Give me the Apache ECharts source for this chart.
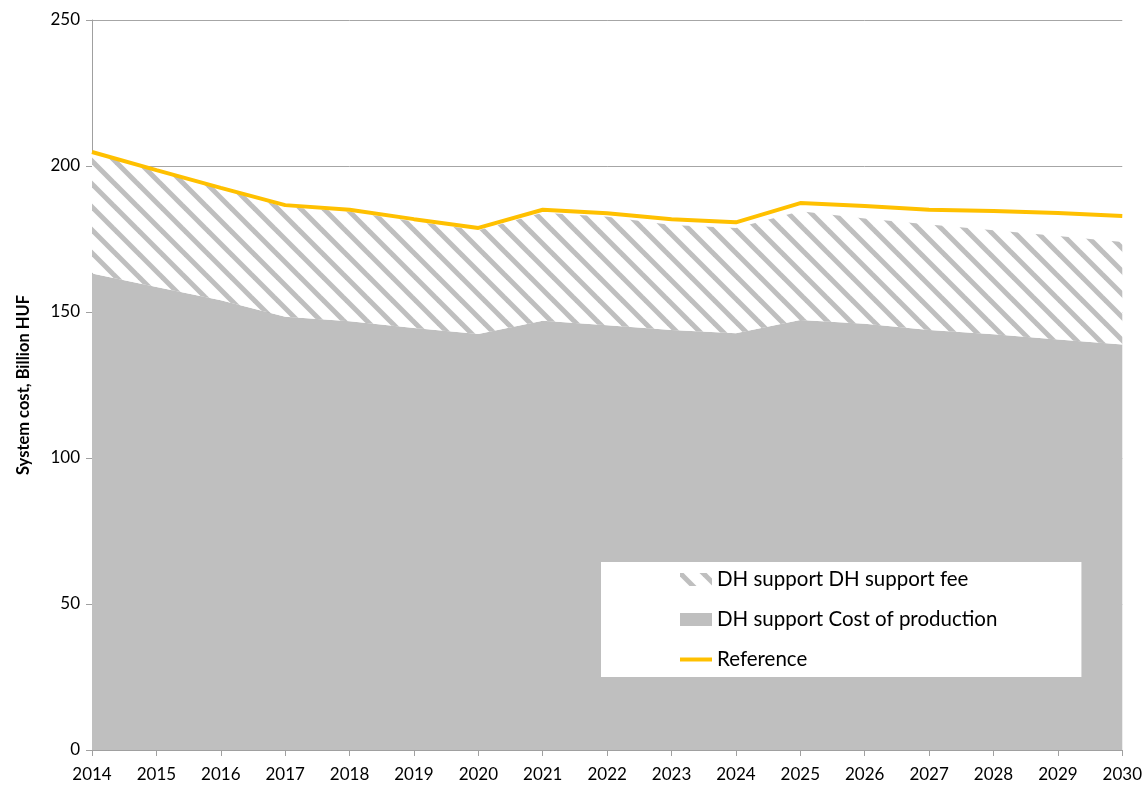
<!DOCTYPE html>
<html>
<head>
<meta charset="utf-8">
<script src="https://cdn.jsdelivr.net/npm/echarts@6/dist/echarts.min.js"></script>
<style>html,body{margin:0;padding:0;background:#fff}#c{width:1145px;height:785px}</style>
</head>
<body>
<div id="c"></div>
<script>
const years = ['2014','2015','2016','2017','2018','2019','2020','2021','2022','2023','2024','2025','2026','2027','2028','2029','2030'];
const costOfProduction = [163.2,158.6,154.0,148.4,146.8,144.5,142.5,147.0,145.5,143.8,142.7,147.3,146.0,143.8,142.4,140.6,138.9];
const supportFee = [41.1,39.6,38.0,37.6,37.5,36.5,35.5,37.0,37.1,36.0,36.1,37.2,36.0,36.2,35.6,35.4,35.1];
const reference = [204.8,198.6,192.5,186.6,185.0,181.8,178.8,185.0,183.8,181.8,180.7,187.3,186.3,185.0,184.6,183.9,182.9];
const yTicks = [0,50,100,150,200,250];

const NAME_FEE = 'DH support DH support fee';
const NAME_COST = 'DH support Cost of production';
const NAME_REF = 'Reference';

function makeHatch(){
  const s = 23;
  const c = document.createElement('canvas');
  c.width = s; c.height = s;
  const ctx = c.getContext('2d');
  ctx.fillStyle = '#ffffff';
  ctx.fillRect(0,0,s,s);
  ctx.strokeStyle = '#BFBFBF';
  ctx.lineWidth = 5;
  for (const o of [-s, 0, s]) {
    ctx.beginPath();
    ctx.moveTo(-s, -s + o);
    ctx.lineTo(2*s, 2*s + o);
    ctx.stroke();
  }
  return c;
}
const hatch = {image: makeHatch(), repeat: 'repeat'};

const chart = echarts.init(document.getElementById('c'), null, {renderer:'canvas'});
const FONT = 'Lato';
chart.setOption({
  animation: false,
  backgroundColor: '#ffffff',
  textStyle: {fontFamily: FONT},
  grid: {left: 92, right: 20, top: 20, bottom: 35, containLabel: false},
  legend: {
    left: 601, top: 562,
    orient: 'vertical',
    backgroundColor: '#ffffff',
    padding: [7, 84, 7, 79],
    itemGap: 19,
    itemWidth: 32,
    itemHeight: 13,
    z: 100,
    textStyle: {fontFamily: FONT, fontSize: 20.5, color: '#000', lineHeight: 20},
    data: [
      {name: NAME_FEE, icon: 'rect', itemStyle: {color: hatch}},
      {name: NAME_COST, icon: 'rect', itemStyle: {color: '#BFBFBF'}},
      {name: NAME_REF, icon: 'path://M0,0 h32 v4 h-32 z', itemStyle: {color: '#FFC000'}}
    ]
  },
  xAxis: {
    type: 'category',
    data: years,
    boundaryGap: false,
    axisLine: {lineStyle: {color: '#A0A0A0', width: 1}},
    axisTick: {show: true, length: 6, lineStyle: {color: '#A0A0A0'}},
    axisLabel: {color: '#000', fontSize: 17, fontFamily: FONT, margin: 16},
    splitLine: {show: false}
  },
  yAxis: {
    type: 'value',
    min: yTicks[0], max: yTicks[yTicks.length-1], interval: 50,
    name: 'System cost, Billion HUF',
    nameLocation: 'middle',
    nameGap: 60,
    nameTextStyle: {fontFamily: FONT, fontWeight: 'bold', fontSize: 16.5, color: '#000'},
    axisLine: {show: true, lineStyle: {color: '#A0A0A0', width: 1}},
    axisTick: {show: true, length: 6, lineStyle: {color: '#A0A0A0'}},
    axisLabel: {color: '#000', fontSize: 17, fontFamily: FONT, margin: 12},
    splitLine: {show: true, lineStyle: {color: '#A6A6A6', width: 1}}
  },
  series: [
    {
      name: NAME_COST, type: 'line', stack: 'dh', data: costOfProduction,
      symbol: 'none', showSymbol: false,
      lineStyle: {width: 0, color: '#BFBFBF'},
      itemStyle: {color: '#BFBFBF'},
      areaStyle: {color: '#BFBFBF', opacity: 1},
      z: 2
    },
    {
      name: NAME_FEE, type: 'line', stack: 'dh', data: supportFee,
      symbol: 'none', showSymbol: false,
      lineStyle: {width: 0, color: '#BFBFBF'},
      itemStyle: {color: hatch},
      areaStyle: {color: hatch, opacity: 1},
      z: 2
    },
    {
      name: NAME_REF, type: 'line', data: reference,
      symbol: 'none', showSymbol: false,
      lineStyle: {width: 4, color: '#FFC000'},
      itemStyle: {color: '#FFC000'},
      z: 3
    }
  ]
});
</script>
</body>
</html>
